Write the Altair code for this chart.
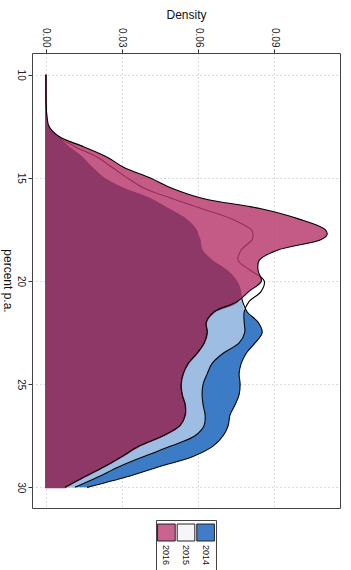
import altair as alt
import pandas as pd

# Interest rate grid (percent p.a.) and kernel density estimates per year
rate = [10, 11, 11.5, 12, 12.5, 13, 13.5, 14, 14.5, 15,
        15.5, 16, 16.5, 17, 17.5, 17.75, 18, 18.5, 19, 19.5,
        20, 20.5, 21, 21.5, 22, 22.5, 23, 23.5, 24, 24.5,
        25, 25.5, 26, 26.5, 27, 27.5, 28, 28.5, 29, 29.5, 30]

d2014 = [0, 0, 0.0001, 0.0001, 0.0005, 0.0043, 0.0088, 0.0140, 0.0180, 0.0225,
         0.0300, 0.0407, 0.0480, 0.0550, 0.0590, 0.0598, 0.0606, 0.0614, 0.0653, 0.0712,
         0.0750, 0.0766, 0.0776, 0.0794, 0.0837, 0.0853, 0.0825, 0.0790, 0.0770, 0.0762,
         0.0766, 0.0762, 0.0746, 0.0726, 0.0719, 0.0699, 0.0659, 0.0580, 0.0446, 0.0316, 0.0162]

d2015 = [0, 0, 0.0001, 0.0002, 0.0008, 0.0046, 0.0117, 0.0203, 0.0262, 0.0320,
         0.0387, 0.0497, 0.0616, 0.0734, 0.0809, 0.0817, 0.0813, 0.0770, 0.0758, 0.0809,
         0.0861, 0.0849, 0.0801, 0.0782, 0.0782, 0.0784, 0.0762, 0.0699, 0.0655, 0.0636,
         0.0620, 0.0616, 0.0620, 0.0628, 0.0624, 0.0588, 0.0493, 0.0387, 0.0288, 0.0205, 0.0114]

d2016 = [0, 0, 0.0001, 0.0004, 0.0012, 0.0052, 0.0150, 0.0242, 0.0308, 0.0410,
         0.0497, 0.0620, 0.0849, 0.0999, 0.1101, 0.1109, 0.1084, 0.0915, 0.0841, 0.0837,
         0.0850, 0.0801, 0.0754, 0.0663, 0.0632, 0.0636, 0.0624, 0.0596, 0.0561, 0.0541,
         0.0533, 0.0537, 0.0549, 0.0549, 0.0529, 0.0462, 0.0367, 0.0300, 0.0229, 0.0150, 0.0075]

years = ["2016", "2015", "2014"]

FONT = "Liberation Sans"
BLUE = "#3C7BC6"
LIGHT_BLUE = "#9DBEE2"
PINK = "#B7366B"        # drawn at 0.82 opacity
CORE = "#8E3868"
SWATCH = {"2016": "#C8648E", "2015": "#F6F6FA", "2014": "#3F7DCB"}
CURVE = "catmull-rom"

rows = pd.DataFrame({"rate": rate, "d2014": d2014, "d2015": d2015, "d2016": d2016})

x_scale = alt.Scale(domain=[-0.0055, 0.116], nice=False, zero=False)
y_scale = alt.Scale(domain=[8.95, 31.0], nice=False, zero=False, reverse=True)

x_axis = alt.Axis(orient="top", values=[0, 0.03, 0.06, 0.09], format=".2f",
                  labelAngle=90, labelFontSize=10, labelPadding=2, tickSize=4,
                  titleFontSize=12, titleFontWeight="normal", titlePadding=6,
                  grid=True, domain=False)
y_axis = alt.Axis(orient="left", values=[10, 15, 20, 25, 30], format="d",
                  labelAngle=90, labelAlign="center", labelBaseline="top",
                  labelFontSize=10, labelPadding=3, tickSize=4,
                  titleFontSize=12, titleFontWeight="normal", titleAngle=90,
                  titleBaseline="top", titlePadding=3, grid=True, domain=False)


def xq(field):
    return alt.X(f"{field}:Q", scale=x_scale, axis=x_axis, title="Density")


Y = alt.Y("rate:Q", scale=y_scale, axis=y_axis, title="percent p.a.")

base = alt.Chart(rows).transform_calculate(
    lb="min(datum.d2014, datum.d2015)",
    core="min(datum.d2014, datum.d2015, datum.d2016)",
)


def area(field, color, opacity=1.0, **kw):
    return base.mark_area(orient="horizontal", color=color, opacity=opacity,
                          interpolate=CURVE, **kw).encode(
        x=xq(field), x2=alt.datum(0), y=Y
    )


def line(field, width=1.1):
    return base.mark_line(color="black", strokeWidth=width, interpolate=CURVE).encode(
        x=xq(field), y=Y, order=alt.Order("rate:Q")
    )


main = alt.layer(
    area("d2014", BLUE),
    area("d2015", "#FFFFFF"),
    area("lb", LIGHT_BLUE),
    line("d2014"),
    line("d2015"),
    area("d2016", PINK, opacity=0.82),
    area("core", CORE, stroke=CORE, strokeWidth=1.8),
    line("d2016"),
).properties(width=308, height=455)

# Legend: swatches with rotated year labels
legend_rows = pd.DataFrame({"year": years, "swatch": [SWATCH[y] for y in years]})
leg_x = alt.X("year:N", sort=years, axis=None,
              scale=alt.Scale(paddingInner=0.1, paddingOuter=0.08))
swatches = alt.Chart(legend_rows).mark_rect(stroke="#222", strokeWidth=1).encode(
    x=leg_x, y=alt.value(4), y2=alt.value(21),
    color=alt.Color("swatch:N", scale=None),
)
labels = alt.Chart(legend_rows).mark_text(
    angle=90, fontSize=9, align="center", baseline="middle", font=FONT, color="#111"
).encode(x=leg_x, y=alt.value(35), text="year:N")
legend = alt.layer(swatches, labels).properties(width=60, height=55)

chart = alt.vconcat(main, legend, spacing=12, center=True, bounds="flush").properties(
    padding={"left": 0, "top": 8, "right": 0, "bottom": 0}
).configure(font=FONT).configure_view(stroke="#444", strokeWidth=1).configure_axis(
    gridColor="#b4b4bc", gridDash=[1, 3], gridWidth=1, tickColor="#333",
    labelColor="#222", titleColor="#111", labelFont=FONT, titleFont=FONT
)

chart.save("out.html", embed_options={"renderer": "svg", "actions": False})
